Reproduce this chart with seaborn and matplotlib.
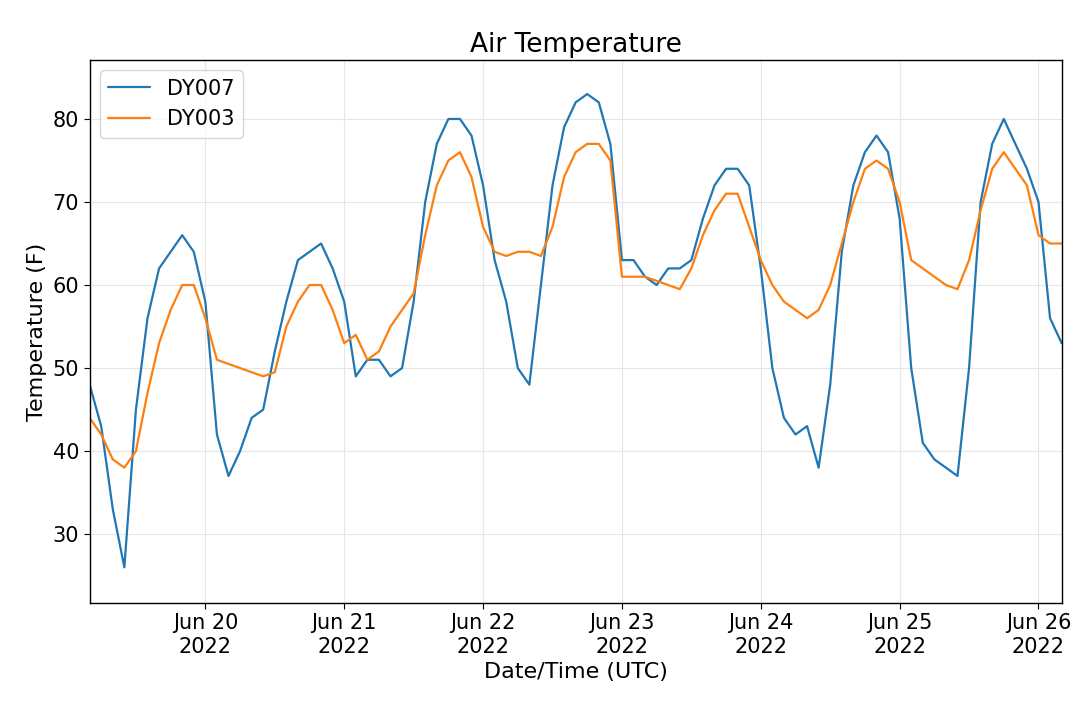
import pandas as pd
import matplotlib
matplotlib.use('Agg')
import matplotlib.pyplot as plt
import matplotlib.dates as mdates
import seaborn as sns

# 2-hourly readings starting Jun 19 04:00 UTC
start = '2022-06-19 04:00'
dy007 = [48, 43, 33, 26, 45, 56, 62, 64, 66, 64, 58, 42, 37, 40, 44, 45, 52, 58, 63, 64,
         65, 62, 58, 49, 51, 51, 49, 50, 58, 70, 77, 80, 80, 78, 72, 63, 58, 50, 48, 60,
         72, 79, 82, 83, 82, 77, 63, 63, 61, 60, 62, 62, 63, 68, 72, 74, 74, 72, 62, 50,
         44, 42, 43, 38, 48, 64, 72, 76, 78, 76, 68, 50, 41, 39, 38, 37, 50, 70, 77, 80,
         77, 74, 70, 56, 53]
dy003 = [44, 42, 39, 38, 40, 47, 53, 57, 60, 60, 56, 51, 50.5, 50, 49.5, 49, 49.5, 55, 58, 60,
         60, 57, 53, 54, 51, 52, 55, 57, 59, 66, 72, 75, 76, 73, 67, 64, 63.5, 64, 64, 63.5,
         67, 73, 76, 77, 77, 75, 61, 61, 61, 60.5, 60, 59.5, 62, 66, 69, 71, 71, 67, 63, 60,
         58, 57, 56, 57, 60, 65, 70, 74, 75, 74, 70, 63, 62, 61, 60, 59.5, 63, 69, 74, 76,
         74, 72, 66, 65, 65]

times = pd.date_range(start, periods=len(dy007), freq='2h')
df = pd.DataFrame({'time': times, 'DY007': dy007, 'DY003': dy003})
long = df.melt(id_vars='time', var_name='station', value_name='temp')

sns.set_style('whitegrid', {'axes.edgecolor': 'black', 'grid.color': '#e6e6e6',
                            'text.color': 'black', 'axes.labelcolor': 'black',
                            'xtick.color': 'black', 'ytick.color': 'black'})
fig = plt.figure(figsize=(10.8, 7.02), dpi=100)
ax = fig.add_axes([0.083, 0.141, 0.9, 0.7735])

sns.lineplot(data=long, x='time', y='temp', hue='station',
             palette=['#1f77b4', '#ff7f0e'], linewidth=1.6, ax=ax)

ax.set_xlim(pd.Timestamp('2022-06-19 04:00'), pd.Timestamp('2022-06-26 04:00'))
ax.set_ylim(21.7, 87.1)
ax.set_yticks([30, 40, 50, 60, 70, 80])
ax.xaxis.set_major_locator(mdates.DayLocator())
ax.xaxis.set_major_formatter(mdates.DateFormatter('%b %d\n%Y'))
ax.tick_params(labelsize=15, length=4, bottom=True, left=True)
for s in ax.spines.values():
    s.set_linewidth(1)
ax.set_title('Air Temperature', fontsize=19)
ax.set_xlabel('Date/Time (UTC)', fontsize=16)
ax.set_ylabel('Temperature (F)', fontsize=16)
ax.legend(loc='upper left', fontsize=15, title=None, frameon=True, edgecolor='#cccccc')

plt.savefig('out.png', dpi=100)
